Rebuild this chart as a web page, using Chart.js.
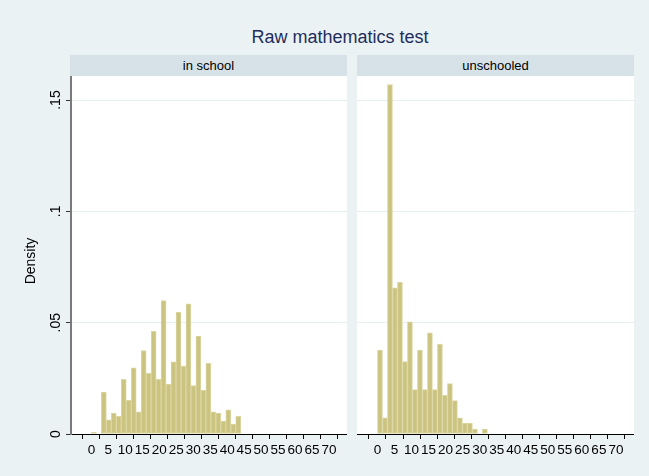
<!DOCTYPE html>
<html><head><meta charset="utf-8">
<script src="https://cdn.jsdelivr.net/npm/chart.js@4/dist/chart.umd.min.js"></script>
<style>
html,body{margin:0;padding:0;}
body{width:649px;height:476px;background:#eaf2f3;position:relative;overflow:hidden;font-family:"Liberation Sans",Arial,sans-serif;}
#title{position:absolute;left:40px;width:600px;top:27px;text-align:center;font-size:18px;line-height:20px;color:#1f2d5c;}
.hdr{position:absolute;top:55px;height:21px;background:#d6e2e8;font-size:13px;text-align:center;line-height:21px;color:#000;}
canvas{position:absolute;}
</style></head><body>
<div id="title">Raw mathematics test</div>
<div class="hdr" style="left:70px;width:277px">in school</div>
<div class="hdr" style="left:357px;width:277px">unschooled</div>
<canvas id="c1" width="347" height="400" style="left:0;top:76px"></canvas>
<canvas id="c2" width="277" height="400" style="left:357px;top:76px"></canvas>
<script>
// Histogram bins: 30 bins from 0 to 44
const binStart = 0;
const binEnd = 44;
const binCount = 30;
const panelTitles = ["in school", "unschooled"];
const xTickValues = [0,5,10,15,20,25,30,35,40,45,50,55,60,65,70];
const yTickValues = [0, 0.05, 0.1, 0.15];
const yTickLabels = ["0", ".05", ".1", ".15"];
const yTitle = "Density";
const inSchoolDensity = [0.0009, null, 0.0188, 0.0064, 0.0094, 0.0079, 0.0245, 0.0151, 0.0297, 0.0100,
  0.0375, 0.0273, 0.0461, 0.0245, 0.0599, 0.0224, 0.0324, 0.0548, 0.0305, 0.0585,
  0.0218, 0.0440, 0.0196, 0.0317, 0.0100, 0.0094, 0.0058, 0.0109, 0.0045, 0.0079];
const unschooledDensity = [0.0377, 0.0073, 0.1569, 0.0657, 0.0681, 0.0325, 0.0504, 0.0199, 0.0377, 0.0199,
  0.0454, 0.0199, 0.0403, 0.0174, 0.0226, 0.0150, 0.0073, 0.0049, 0.0049, 0.0022,
  null, 0.0022, null, null, null, null, null, null, null, null];

const binWidth = (binEnd - binStart) / binCount;
function toPoints(arr){
  return arr.map((v,i)=>({x: binStart + (i+0.5)*binWidth, y: v}));
}
const BAR_FILL = '#cbc380';
const BAR_LINE = '#dcd7a4';
const FONT = "'Liberation Sans', Arial, sans-serif";

const plotBg = {
  id:'plotBg',
  beforeDraw(chart){
    const {ctx, chartArea:a} = chart;
    ctx.save(); ctx.fillStyle = '#ffffff';
    ctx.fillRect(a.left, a.top, a.right-a.left, a.bottom-a.top);
    ctx.restore();
  }
};
const yLabels = {
  id:'yLabels',
  afterDraw(chart){
    if (!chart.options.plugins.yLabels || !chart.options.plugins.yLabels.show) return;
    const {ctx} = chart; const ys = chart.scales.y;
    ctx.save();
    ctx.fillStyle = '#000'; ctx.font = '14px ' + FONT;
    ctx.textAlign = 'center'; ctx.textBaseline = 'middle';
    yTickValues.forEach((v,i)=>{
      const py = ys.getPixelForValue(v);
      ctx.save(); ctx.translate(56, py); ctx.rotate(-Math.PI/2);
      ctx.fillText(yTickLabels[i], 0, 0);
      ctx.restore();
    });
    ctx.save(); ctx.translate(31, 261 - 76); ctx.rotate(-Math.PI/2);
    ctx.fillText(yTitle, 0, 0);
    ctx.restore();
    ctx.restore();
  }
};

function makeChart(id, data, showY){
  return new Chart(document.getElementById(id), {
    type:'bar',
    data:{datasets:[{data: toPoints(data), backgroundColor: BAR_FILL, borderColor: BAR_LINE,
      borderWidth: 1, borderSkipped: false, barPercentage: 1, categoryPercentage: 1, grouped:false}]},
    options:{
      responsive:false, animation:false, devicePixelRatio:1,
      layout:{padding:0},
      plugins:{legend:{display:false}, tooltip:{enabled:false}, title:{display:false}, yLabels:{show:showY}},
      scales:{
        x:{type:'linear', min:-3.3, max:72.6,
          afterBuildTicks(s){ s.ticks = xTickValues.map(v=>({value:v})); },
          afterFit(s){ s.height = 42; s.paddingLeft = 0; s.paddingRight = 0; },
          ticks:{color:'#000', font:{family:FONT, size:13.5}, padding:3, maxRotation:0, minRotation:0, autoSkip:false,
            callback:(v)=>String(v)},
          grid:{drawOnChartArea:false, drawTicks:true, tickLength:5, tickColor:'#000', tickWidth:1},
          border:{display:true, color:'#000', width:1}
        },
        y:{type:'linear', min:0, max:0.1608,
          afterBuildTicks(s){ s.ticks = yTickValues.map(v=>({value:v})); },
          afterFit(s){ s.width = showY ? 71 : 0; s.paddingTop = 0; s.paddingBottom = 0; },
          ticks:{display:false},
          title:{display:false},
          grid:{color:(c)=> c.tick && c.tick.value === 0 ? 'rgba(0,0,0,0)' : '#e6eff1', lineWidth:1,
            drawTicks:showY, tickLength:5, tickColor:'#333', tickWidth:1},
          border:{display:showY, color:'#7a7a7a', width:2}
        }
      }
    },
    plugins:[plotBg, yLabels]
  });
}
makeChart('c1', inSchoolDensity, true);
makeChart('c2', unschooledDensity, false);
</script>
</body></html>
